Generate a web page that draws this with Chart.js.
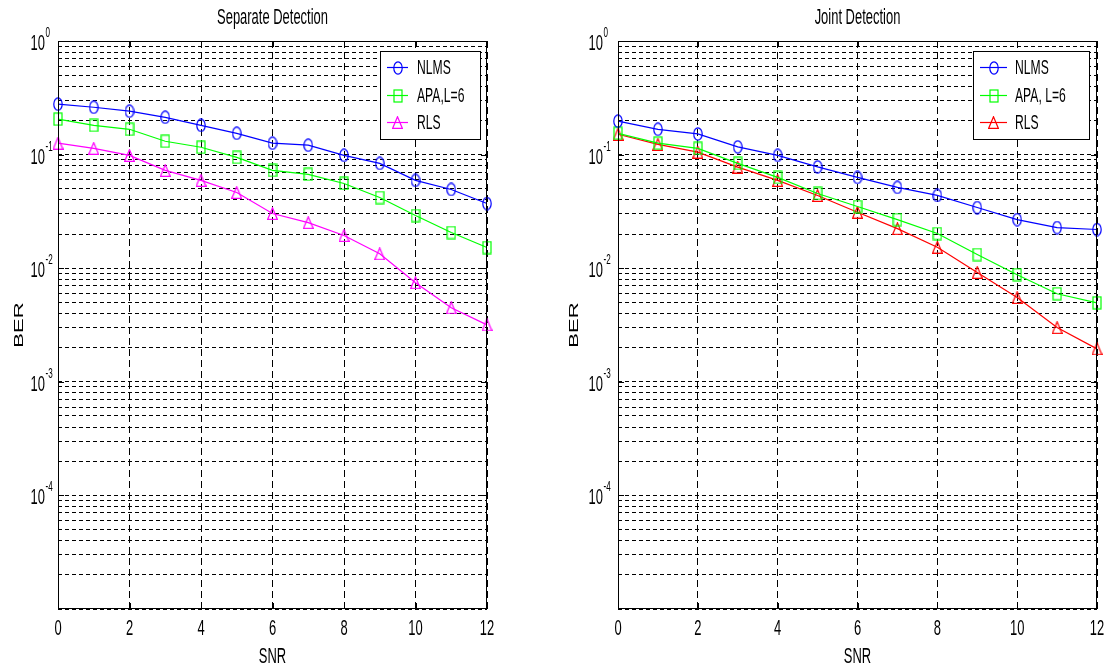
<!DOCTYPE html>
<html lang="en">

<head>
  <meta charset="UTF-8" />
  <title>BER vs SNR - separate and joint detection</title>
  <script src="https://cdn.jsdelivr.net/npm/chart.js@4.4.0/dist/chart.umd.min.js"></script>
  <style>
    body {
      margin: 0;
      background: #fff;
    }

    #wrap {
      position: relative;
      width: 1104px;
      height: 668px;
    }

    #wrap canvas {
      position: absolute;
      top: 0;
    }
  </style>
</head>

<body>
  <div id="wrap">
    <canvas id="sepChart" width="552" height="668" style="left:0"></canvas>
    <canvas id="jointChart" width="552" height="668" style="left:552px"></canvas>
  </div>

  <script>
    // values (BER per SNR step)
    const snr = [0, 1, 2, 3, 4, 5, 6, 7, 8, 9, 10, 11, 12];
    const xTicks = [0, 2, 4, 6, 8, 10, 12];
    const yTickExponents = [0, -1, -2, -3, -4];

    const sepNlms = [0.278, 0.261, 0.241, 0.213, 0.181, 0.154, 0.126, 0.121, 0.0985, 0.0837, 0.0593, 0.0493, 0.0371];
    const sepApa = [0.205, 0.181, 0.167, 0.131, 0.116, 0.0946, 0.0726, 0.0669, 0.0557, 0.0419, 0.0291, 0.0206, 0.0152];
    const sepRls = [0.126, 0.1135, 0.0985, 0.0726, 0.0593, 0.0464, 0.0303, 0.0252, 0.0194, 0.0134, 0.00745, 0.00448, 0.00317];

    const jointNlms = [0.197, 0.167, 0.152, 0.117, 0.0985, 0.078, 0.063, 0.0514, 0.0437, 0.0342, 0.0268, 0.0228, 0.0219];
    const jointApa = [0.154, 0.126, 0.1135, 0.0837, 0.063, 0.0455, 0.0349, 0.0268, 0.0202, 0.0132, 0.00877, 0.00596, 0.00496];
    const jointRls = [0.151, 0.123, 0.105, 0.0776, 0.0593, 0.0437, 0.0311, 0.0223, 0.0153, 0.00918, 0.00552, 0.003, 0.00195];

    // text in the original is squeezed sideways and stretched tall
    const SX = 0.81, SY = 1.38;
    const FONT = '"Liberation Sans", Arial, sans-serif';

    function drawText(ctx, s, x, y, size, align, rotate) {
      ctx.save();
      ctx.translate(x, y);
      ctx.scale(SX, SY);
      if (rotate) ctx.rotate(rotate);
      ctx.font = size + 'px ' + FONT;
      ctx.textAlign = align;
      ctx.textBaseline = 'alphabetic';
      ctx.fillStyle = '#000';
      ctx.fillText(s, 0, 0.36 * size);
      ctx.restore();
    }

    function makeMarker(shape, color) {
      const c = document.createElement('canvas');
      const g = c.getContext('2d');
      g.lineWidth = 1.2;
      if (shape === 'circle') {
        c.width = 10; c.height = 14;
        g.strokeStyle = color; g.lineWidth = 1.2;
        g.beginPath();
        g.ellipse(5, 7, 4.2, 6.2, 0, 0, Math.PI * 2);
        g.stroke();
      } else if (shape === 'square') {
        c.width = 10; c.height = 14;
        g.strokeStyle = color; g.lineWidth = 1.2;
        g.strokeRect(1, 1, 8, 12);
      } else {
        c.width = 11; c.height = 13;
        g.strokeStyle = color; g.lineWidth = 1.2;
        g.beginPath();
        g.moveTo(5.5, 0.7);
        g.lineTo(10.4, 12.4);
        g.lineTo(0.6, 12.4);
        g.closePath();
        g.stroke();
      }
      return c;
    }

    // grid values: 1..9 x 10^e for every decade shown
    const yGridValues = [];
    for (let e = -5; e < 0; e++) {
      for (let k = 1; k <= 9; k++) yGridValues.push(k * Math.pow(10, e));
    }
    yGridValues.push(1);

    function decor(cfg) {
      return {
        id: 'decor',
        afterDraw(chart) {
          const { ctx, chartArea: a } = chart;
          const x = chart.scales.x, y = chart.scales.y;
          ctx.save();

          // axes box
          ctx.strokeStyle = '#000';
          ctx.lineWidth = 1;
          ctx.setLineDash([]);
          ctx.strokeRect(a.left + 0.5, a.top + 0.5, a.width - 1, a.height - 1);

          // inner tick marks
          ctx.beginPath();
          xTicks.forEach(v => {
            const px = Math.round(x.getPixelForValue(v)) + 0.5;
            ctx.moveTo(px, a.bottom); ctx.lineTo(px, a.bottom - 6);
            ctx.moveTo(px, a.top); ctx.lineTo(px, a.top + 6);
          });
          yTickExponents.forEach(e => {
            const py = Math.round(y.getPixelForValue(Math.pow(10, e))) + 0.5;
            ctx.moveTo(a.left, py); ctx.lineTo(a.left + 6, py);
            ctx.moveTo(a.right, py); ctx.lineTo(a.right - 6, py);
          });
          ctx.stroke();

          // tick labels
          xTicks.forEach(v => {
            drawText(ctx, String(v), x.getPixelForValue(v), 627, 16, 'center');
          });
          yTickExponents.forEach(e => {
            const py = y.getPixelForValue(Math.pow(10, e));
            const rx = a.left - cfg.yLabelGap;
            drawText(ctx, '10', rx, py + 1, 16, 'right');
            drawText(ctx, String(e), rx + 0.5, py - 9, 10, 'left');
          });

          // titles
          const cx = (a.left + a.right) / 2;
          drawText(ctx, cfg.title, cx, 16, 16, 'center');
          drawText(ctx, 'SNR', cx, 655, 16, 'center');
          drawText(ctx, 'BER', cfg.berX, (a.top + a.bottom) / 2, 16, 'center', -Math.PI / 2);

          // legend
          const L = cfg.legend;
          ctx.fillStyle = '#fff';
          ctx.fillRect(L.x, L.y, L.w, L.h);
          ctx.strokeStyle = '#000';
          ctx.strokeRect(L.x + 0.5, L.y + 0.5, L.w, L.h);
          chart.data.datasets.forEach((ds, i) => {
            const ry = L.rows[i];
            ctx.strokeStyle = ds.borderColor;
            ctx.lineWidth = 1.2;
            ctx.beginPath();
            ctx.moveTo(L.x0, ry + 0.5);
            ctx.lineTo(L.x1, ry + 0.5);
            ctx.stroke();
            const m = ds.pointStyle;
            ctx.drawImage(m, Math.round((L.x0 + L.x1) / 2 - m.width / 2), Math.round(ry - m.height / 2 + 0.5));
            drawText(ctx, ds.label, L.tx, ry, 15, 'left');
          });

          ctx.restore();
        }
      };
    }

    function series(label, values, color, shape) {
      return {
        label: label,
        data: snr.map((s, i) => ({ x: s, y: values[i] })),
        borderColor: color,
        backgroundColor: color,
        borderWidth: 1.2,
        pointStyle: makeMarker(shape, color),
        pointRadius: 5,
        tension: 0,
        clip: false
      };
    }

    function makeChart(id, datasets, padLeft, padRight, cfg) {
      const ctx = document.getElementById(id).getContext('2d');
      return new Chart(ctx, {
        type: 'line',
        data: { datasets: datasets },
        options: {
          responsive: false,
          animation: false,
          events: [],
          layout: { padding: { left: padLeft, right: padRight, top: 41, bottom: 59 } },
          plugins: { legend: { display: false }, tooltip: { enabled: false } },
          scales: {
            x: {
              type: 'linear', min: 0, max: 12,
              ticks: { display: false, stepSize: 2 },
              grid: { color: '#000', lineWidth: 1, drawTicks: false },
              border: { display: false, dash: [7, 4] },
              afterFit(s) { s.height = 0; }
            },
            y: {
              type: 'logarithmic', min: 1e-5, max: 1,
              ticks: { display: false },
              grid: { color: '#000', lineWidth: 1, drawTicks: false },
              border: { display: false, dash: [4, 3] },
              afterBuildTicks(s) { s.ticks = yGridValues.map(v => ({ value: v })); },
              afterFit(s) { s.width = 0; }
            }
          }
        },
        plugins: [decor(cfg)]
      });
    }

    makeChart('sepChart', [
      series('NLMS', sepNlms, '#0000ff', 'circle'),
      series('APA,L=6', sepApa, '#00ff00', 'square'),
      series('RLS', sepRls, '#ff00ff', 'triangle')
    ], 58, 65, {
      title: 'Separate Detection',
      berX: 18,
      yLabelGap: 13,
      legend: { x: 380, y: 51, w: 100, h: 88, x0: 387, x1: 408, tx: 417, rows: [67, 95, 122] }
    });

    makeChart('jointChart', [
      series('NLMS', jointNlms, '#0000ff', 'circle'),
      series('APA, L=6', jointApa, '#00ff00', 'square'),
      series('RLS', jointRls, '#ff0000', 'triangle')
    ], 66, 7, {
      title: 'Joint Detection',
      berX: 21,
      yLabelGap: 15,
      legend: { x: 421, y: 51, w: 116, h: 88, x0: 428, x1: 455, tx: 463, rows: [67, 95, 122] }
    });
  </script>
</body>

</html>
